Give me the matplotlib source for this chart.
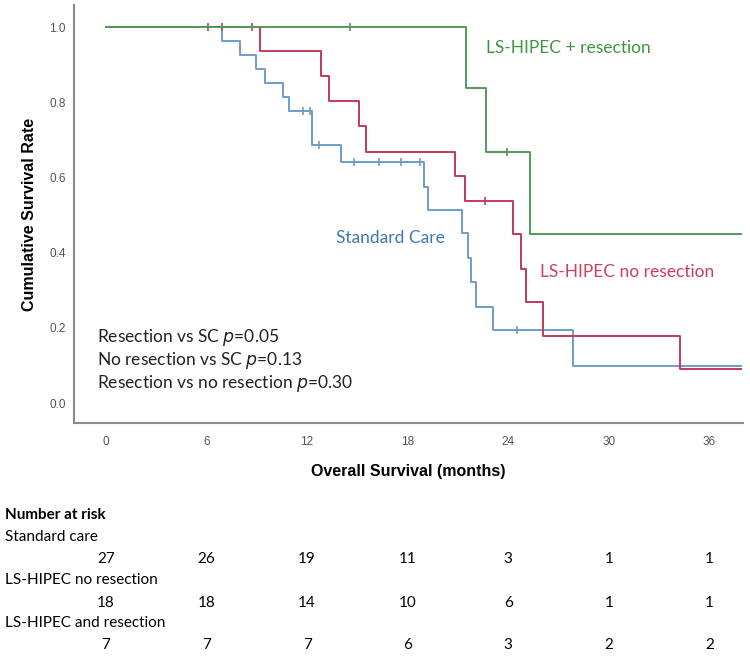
import numpy as np
import matplotlib
matplotlib.use("Agg")
import matplotlib.pyplot as plt

# Kaplan-Meier curves (months, survival)
sc_times = [0, 6.95, 8.0, 8.95, 9.5, 10.55, 10.9, 12.3, 14.05, 19.0, 19.2,
            21.25, 21.6, 21.75, 22.1, 23.1, 27.85, 37.9]
sc_surv = [1.0, 0.963, 0.926, 0.889, 0.852, 0.815, 0.778, 0.686, 0.642, 0.574,
           0.513, 0.452, 0.386, 0.323, 0.256, 0.194, 0.099, 0.099]
sc_cens_t = [11.75, 12.2, 12.7, 14.8, 16.3, 17.6, 18.75, 24.5]
sc_cens_s = [0.778, 0.778, 0.686, 0.642, 0.642, 0.642, 0.642, 0.194]

nr_times = [0, 9.2, 12.85, 13.3, 15.1, 15.5, 20.8, 21.4, 24.3, 24.75, 25.05,
            26.1, 34.25, 37.9]
nr_surv = [1.0, 0.936, 0.870, 0.803, 0.737, 0.668, 0.604, 0.537, 0.449, 0.356,
           0.269, 0.178, 0.090, 0.090]
nr_cens_t = [6.1, 6.95, 8.7, 22.6]
nr_cens_s = [1.0, 1.0, 1.0, 0.537]

res_times = [0, 21.5, 22.65, 25.3, 37.9]
res_surv = [1.0, 0.837, 0.668, 0.449, 0.449]
res_cens_t = [14.55, 23.95]
res_cens_s = [1.0, 0.668]

risk_times = [0, 6, 12, 18, 24, 30, 36]
risk_sc = [27, 26, 19, 11, 3, 1, 1]
risk_nr = [18, 18, 14, 10, 6, 1, 1]
risk_res = [7, 7, 7, 6, 3, 2, 2]

p_lines = ["Resection vs SC $p$=0.05",
           "No resection vs SC $p$=0.13",
           "Resection vs no resection $p$=0.30"]

BLUE = "#6d9dcc"
RED = "#c23a5c"
GREEN = "#55995a"
label_font = "Lato"
axis_font = "Liberation Sans"

fig = plt.figure(figsize=(7.5, 6.58), dpi=100)
ax = fig.add_axes([0.0987, 0.357, 0.892, 0.635])

for t, s, ct, cs, c in [(sc_times, sc_surv, sc_cens_t, sc_cens_s, BLUE),
                        (nr_times, nr_surv, nr_cens_t, nr_cens_s, RED),
                        (res_times, res_surv, res_cens_t, res_cens_s, GREEN)]:
    ax.step(t, s, where="post", color=c, lw=1.4)
    ax.plot(ct, cs, ls="none", marker="|", ms=6, mew=1.2, color=c)

ax.set_xlim(-1.9, 38)
ax.set_ylim(-0.053, 1.058)
ax.set_xticks(risk_times)
ax.set_yticks([0.0, 0.2, 0.4, 0.6, 0.8, 1.0])
ax.set_yticklabels(["0.0", "0.2", "0.4", "0.6", "0.8", "1.0"])
ax.tick_params(length=0, labelsize=8.5, labelcolor="#555555")
ax.tick_params(axis="y", pad=6)
ax.tick_params(axis="x", pad=9)
for lab in ax.get_xticklabels() + ax.get_yticklabels():
    lab.set_family(axis_font)
for sp in ["top", "right"]:
    ax.spines[sp].set_visible(False)
for sp in ["left", "bottom"]:
    ax.spines[sp].set_color("#8c8c8c")
    ax.spines[sp].set_linewidth(1.5)

ax.set_ylabel("Cumulative Survival Rate", fontsize=11.5, fontweight="bold",
              family=axis_font, labelpad=9)
ax.set_xlabel("Overall Survival (months)", fontsize=11.5, fontweight="bold",
              family=axis_font, labelpad=12)

ax.text(22.7, 0.945, "LS-HIPEC + resection", color="#3f963f", fontsize=12.5,
        family=label_font, va="center")
ax.text(13.7, 0.44, "Standard Care", color="#3b78b5", fontsize=12.5,
        family=label_font, va="center")
ax.text(25.9, 0.348, "LS-HIPEC no resection", color="#d03c5c", fontsize=12.5,
        family=label_font, va="center")
for i, line in enumerate(p_lines):
    ax.text(-0.55, 0.175 - i * 0.062, line, color="#222222", fontsize=12.5,
            family=label_font, va="center")

# number at risk table below the axes
tab_y = [515, 537, 559, 580, 603, 623, 645]
def fy(py):
    return 1 - py / 658.0
fig.text(0.007, fy(tab_y[0]), "Number at risk", fontsize=11, fontweight="bold",
         family=label_font, va="center")
rows = [("Standard care", risk_sc), ("LS-HIPEC no resection", risk_nr),
        ("LS-HIPEC and resection", risk_res)]
for k, (name, vals) in enumerate(rows):
    fig.text(0.007, fy(tab_y[1 + 2 * k]), name, fontsize=11, family=label_font,
             va="center")
    for t, v in zip(risk_times, vals):
        xf = fig.transFigure.inverted().transform(ax.transData.transform((t, 0)))[0]
        fig.text(xf, fy(tab_y[2 + 2 * k]), str(v), fontsize=11, family=label_font,
                 ha="center", va="center")

fig.savefig("out.png", dpi=100)
